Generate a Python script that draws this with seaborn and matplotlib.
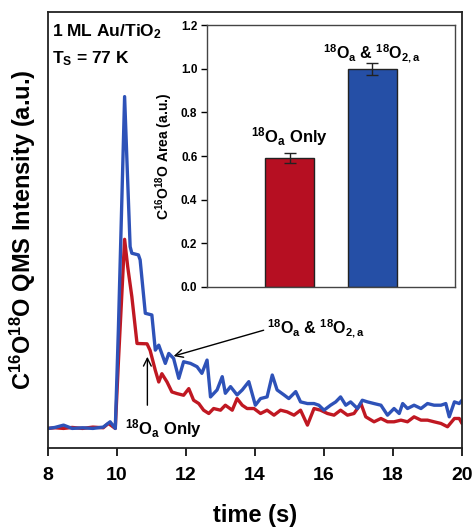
import numpy as np
import pandas as pd
import matplotlib
matplotlib.use("Agg")
import matplotlib.pyplot as plt
import seaborn as sns

sns.set_style("ticks")
plt.rcParams['font.family'] = ['Liberation Sans', 'DejaVu Sans']
plt.rcParams['font.weight'] = 'bold'
plt.rcParams['mathtext.fontset'] = 'custom'
plt.rcParams['mathtext.rm'] = 'Liberation Sans:bold'
plt.rcParams['mathtext.bf'] = 'Liberation Sans:bold'
plt.rcParams['mathtext.it'] = 'Liberation Sans:bold'
plt.rcParams['mathtext.default'] = 'bf'
for k in ['text.color', 'axes.labelcolor', 'xtick.color', 'ytick.color']:
    plt.rcParams[k] = 'black'

# ---- data: QMS traces (time s, intensity a.u.) ----
t_both = [8.0, 8.2, 8.45, 8.7, 9.0, 9.3, 9.6, 9.8, 9.95, 10.04, 10.22, 10.29, 10.38, 10.43,
          10.62, 10.67, 10.82, 11.01, 11.11, 11.21, 11.40, 11.50, 11.64, 11.79, 11.93, 12.13,
          12.32, 12.46, 12.61, 12.71, 12.90, 13.05, 13.14, 13.29, 13.48, 13.63, 13.82, 14.01,
          14.16, 14.35, 14.50, 14.64, 14.84, 14.98, 15.18, 15.32, 15.52, 15.71, 15.85, 16.00,
          16.19, 16.34, 16.48, 16.63, 16.77, 16.97, 17.11, 17.26, 17.45, 17.65, 17.84, 18.03,
          18.18, 18.28, 18.42, 18.61, 18.81, 19.00, 19.19, 19.39, 19.53, 19.63, 19.78, 19.92, 20.0]
i_both = [0.000, 0.003, 0.010, 0.000, 0.002, 0.000, 0.004, 0.020, 0.000, 0.300, 1.000, 0.800,
          0.548, 0.528, 0.523, 0.508, 0.347, 0.342, 0.236, 0.251, 0.196, 0.226, 0.211, 0.151,
          0.201, 0.196, 0.186, 0.166, 0.206, 0.095, 0.116, 0.156, 0.106, 0.126, 0.101, 0.116,
          0.141, 0.070, 0.090, 0.095, 0.161, 0.116, 0.101, 0.090, 0.111, 0.080, 0.075, 0.075,
          0.070, 0.055, 0.070, 0.080, 0.095, 0.070, 0.080, 0.060, 0.085, 0.080, 0.075, 0.070,
          0.040, 0.060, 0.045, 0.075, 0.060, 0.070, 0.060, 0.075, 0.070, 0.070, 0.075, 0.035,
          0.080, 0.075, 0.085]

t_only = [8.0, 8.2, 8.45, 8.7, 9.0, 9.3, 9.6, 9.75, 9.95, 10.04, 10.22, 10.31, 10.43, 10.58,
          10.87, 10.96, 11.11, 11.21, 11.30, 11.45, 11.59, 11.74, 11.93, 12.08, 12.22, 12.37,
          12.51, 12.66, 12.80, 13.00, 13.14, 13.34, 13.48, 13.63, 13.77, 13.97, 14.16, 14.35,
          14.55, 14.74, 14.93, 15.13, 15.32, 15.52, 15.71, 15.90, 16.10, 16.29, 16.48, 16.68,
          16.87, 17.07, 17.21, 17.45, 17.65, 17.84, 18.03, 18.23, 18.42, 18.61, 18.81, 19.00,
          19.19, 19.39, 19.58, 19.78, 19.92, 20.0]
i_only = [0.000, 0.002, 0.000, 0.003, 0.000, 0.004, 0.002, 0.015, 0.000, 0.200, 0.570, 0.487,
          0.397, 0.256, 0.255, 0.235, 0.175, 0.140, 0.165, 0.140, 0.110, 0.105, 0.100, 0.120,
          0.085, 0.075, 0.055, 0.045, 0.060, 0.055, 0.070, 0.055, 0.090, 0.070, 0.060, 0.060,
          0.045, 0.055, 0.040, 0.055, 0.050, 0.040, 0.055, 0.010, 0.060, 0.055, 0.045, 0.040,
          0.055, 0.040, 0.045, 0.075, 0.035, 0.020, 0.030, 0.020, 0.020, 0.025, 0.020, 0.035,
          0.025, 0.025, 0.020, 0.015, 0.005, 0.030, 0.030, 0.015]

# ---- data: inset bar chart ----
bar_labels = ["$^{18}$O$_a$ Only", "$^{18}$O$_a$ & $^{18}$O$_{2,a}$"]
bar_values = [0.59, 1.00]
bar_errors = [0.024, 0.028]

red = "#C01822"
blue = "#2E52B8"
bar_red = "#B60F22"
bar_blue = "#254FA6"

fig = plt.figure(figsize=(4.74, 5.29), dpi=100)
ax = fig.add_axes([0.1013, 0.1531, 0.8734, 0.8242])

df_both = pd.DataFrame({"t": t_both, "I": i_both})
df_only = pd.DataFrame({"t": t_only, "I": i_only})
sns.lineplot(data=df_only, x="t", y="I", ax=ax, color=red, lw=2.4)
sns.lineplot(data=df_both, x="t", y="I", ax=ax, color=blue, lw=2.4)

ax.set_xlim(8, 20)
ax.set_ylim(-0.059, 1.255)
ax.set_xticks([8, 10, 12, 14, 16, 18, 20])
ax.set_yticks([])
ax.tick_params(axis='x', direction='out', length=6, width=1.2, labelsize=14, pad=8)
for lab in ax.get_xticklabels():
    lab.set_fontweight('bold')
for s in ax.spines.values():
    s.set_linewidth(1.3)
    s.set_color('#222222')
ax.set_xlabel("time (s)", fontsize=17, fontweight='bold', labelpad=14)
ax.set_ylabel("C$^{16}$O$^{18}$O QMS Intensity (a.u.)", fontsize=17, fontweight='bold', labelpad=7)

ax.text(0.010, 0.955, "1 ML Au/TiO$_2$", transform=ax.transAxes, fontsize=12.5, fontweight='bold', va='center')
ax.text(0.010, 0.892, "T$_S$ = 77 K", transform=ax.transAxes, fontsize=12.5, fontweight='bold', va='center')

ax.annotate("", xy=(11.64, 0.218), xytext=(14.25, 0.296),
            arrowprops=dict(arrowstyle='->', color='black', lw=1.0, shrinkA=0, shrinkB=0,
                            mutation_scale=14))
ax.text(14.36, 0.30, "$^{18}$O$_a$ & $^{18}$O$_{2,a}$", fontsize=11.5, fontweight='bold',
        va='center', ha='left')
ax.annotate("", xy=(10.88, 0.216), xytext=(10.88, 0.07),
            arrowprops=dict(arrowstyle='->', color='black', lw=1.0, shrinkA=0, shrinkB=0,
                            mutation_scale=14))
ax.text(10.22, 0.0, "$^{18}$O$_a$ Only", fontsize=12, fontweight='bold', va='center', ha='left')

# inset
ins = fig.add_axes([0.4367, 0.4575, 0.5233, 0.4952])
df_bar = pd.DataFrame({"label": bar_labels, "value": bar_values})
sns.barplot(data=df_bar, x="label", y="value", hue="label", palette=[bar_red, bar_blue],
            legend=False, ax=ins, width=0.6, edgecolor='#222222', linewidth=1.0,
            errorbar=None, saturation=1)
ins.errorbar(range(len(bar_values)), bar_values, yerr=bar_errors, fmt='none', ecolor='#222222',
             elinewidth=1.0, capsize=4, capthick=1.0)
label_sizes = [12, 11.5]
for i, (lab, v) in enumerate(zip(bar_labels, bar_values)):
    ins.text(i, v + (0.1 if i == 0 else 0.07), lab, ha='center', va='center',
             fontsize=label_sizes[i], fontweight='bold')
ins.set_xlim(-1.0, 2.0)
ins.set_ylim(0, 1.2)
ins.set_yticks([0.0, 0.2, 0.4, 0.6, 0.8, 1.0, 1.2])
ins.set_yticklabels([f"{v:.1f}" for v in [0.0, 0.2, 0.4, 0.6, 0.8, 1.0, 1.2]])
ins.set_xticks([])
ins.set_xlabel("")
ins.set_ylabel("C$^{16}$O$^{18}$O Area (a.u.)", fontsize=10, fontweight='bold', labelpad=4)
ins.tick_params(axis='y', direction='out', length=4, width=1.0, labelsize=8.5, pad=3)
for lab in ins.get_yticklabels():
    lab.set_fontweight('bold')
for s in ins.spines.values():
    s.set_linewidth(1.0)
    s.set_color('#444444')

fig.savefig("out.png", dpi=100)
